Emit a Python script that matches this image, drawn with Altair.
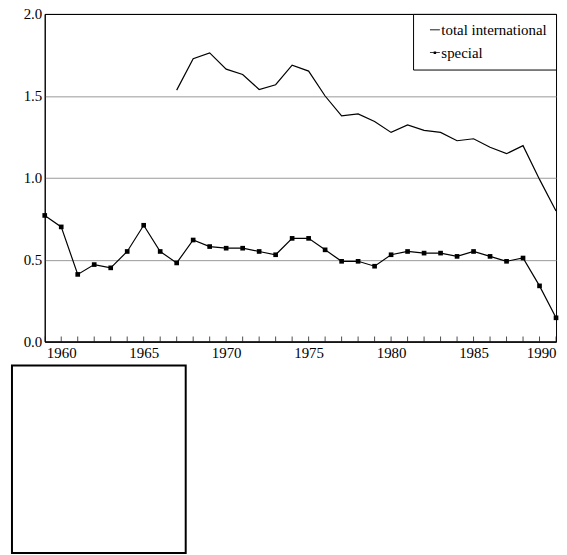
import altair as alt
import pandas as pd

# ---- data ----
years_special = list(range(1959, 1991))
special = [0.77, 0.70, 0.41, 0.47, 0.45, 0.55, 0.71, 0.55, 0.48, 0.62, 0.58, 0.57,
           0.57, 0.55, 0.53, 0.63, 0.63, 0.56, 0.49, 0.49, 0.46, 0.53, 0.55, 0.54,
           0.54, 0.52, 0.55, 0.52, 0.49, 0.51, 0.34, 0.145]

years_total = list(range(1967, 1991))
total_international = [1.535, 1.727, 1.762, 1.663, 1.630, 1.539, 1.568, 1.687, 1.651,
                       1.499, 1.378, 1.390, 1.343, 1.277, 1.323, 1.289, 1.277, 1.226,
                       1.238, 1.186, 1.147, 1.196, 0.99, 0.797]

series_names = ["total international", "special"]
x_labels = [1960, 1965, 1970, 1975, 1980, 1985, 1990]
y_ticks = [0.0, 0.5, 1.0, 1.5, 2.0]
tick_years = list(range(1959, 1991))

rows = []
for yr, v in zip(years_total, total_international):
    rows.append({"year": yr, "value": v, "series": series_names[0]})
for yr, v in zip(years_special, special):
    rows.append({"year": yr, "value": v, "series": series_names[1]})
df = pd.DataFrame(rows)
df_special = df[df["series"] == "special"]
df_ticks = pd.DataFrame({"year": tick_years})

FONT = "Liberation Serif"
FS = 15
W, H = 515, 330

xscale = alt.Scale(domain=[1959, 1990], nice=False, zero=False)
yscale = alt.Scale(domain=[0, 2], nice=False)

# --- narrow panel holding the y tick labels ---
ylabels = alt.Chart(df).mark_point(opacity=0).encode(
    y=alt.Y("value:Q", scale=yscale, title=None,
            axis=alt.Axis(orient="right", values=y_ticks, format=".1f", ticks=False,
                          domain=False, grid=False, labelAlign="right", labelPadding=0,
                          labelFont=FONT, labelFontSize=FS, labelColor="black"))
).properties(width=30, height=H,
             view=alt.ViewBackground(stroke="transparent", strokeWidth=0))

# --- main plot ---
x_enc = alt.X("year:Q", scale=xscale, title=None,
              axis=alt.Axis(values=x_labels, format="d", ticks=False, grid=False,
                            domainColor="black", labelFont=FONT, labelFontSize=FS,
                            labelColor="black", labelPadding=4, labelFlush=True,
                            labelFlushOffset=0))
y_enc = alt.Y("value:Q", scale=yscale, title=None,
              axis=alt.Axis(values=y_ticks, ticks=False, labels=False, grid=True,
                            gridColor={"condition": {"test": "datum.value == 2 || datum.value == 0",
                                                     "value": "black"}, "value": "#999999"},
                            gridWidth=1, domainColor="black"))

lines = alt.Chart(df).mark_line(color="black", strokeWidth=1.2).encode(
    x=x_enc, y=y_enc, detail="series:N")

points = alt.Chart(df_special).mark_square(size=22, color="black", opacity=1).encode(
    x="year:Q", y="value:Q")

ticks = alt.Chart(df_ticks).mark_tick(color="black", size=10, thickness=1, clip=True,
                                      orient="vertical").encode(
    x="year:Q", y=alt.datum(0))

line_path = "M-0.6,-0.09L1.4,-0.09L1.4,0.09L-0.6,0.09Z"
special_path = ("M-0.6,-0.09L1.4,-0.09L1.4,0.09L-0.6,0.09Z"
                "M0.15,-0.25L0.65,-0.25L0.65,0.25L0.15,0.25Z")

legend_layer = alt.Chart(df).mark_point(filled=True, color="black", size=0).encode(
    x="year:Q", y="value:Q",
    shape=alt.Shape("series:N",
                    scale=alt.Scale(domain=series_names, range=[line_path, special_path]),
                    legend=alt.Legend(title=None, orient="top-right", offset=0,
                                      strokeColor="black", fillColor="white",
                                      padding=8.5, rowPadding=7, symbolSize=100,
                                      symbolOffset=4,
                                      symbolFillColor="black", symbolStrokeColor="black",
                                      symbolStrokeWidth=0, symbolOpacity=1,
                                      labelFont=FONT, labelFontSize=FS,
                                      labelColor="black", labelOffset=1,
                                      labelExpr="datum.label + '    '")))

main = alt.layer(lines, points, ticks, legend_layer).properties(
    width=W, height=H,
    view=alt.ViewBackground(stroke="black", strokeWidth=1))

top_row = alt.hconcat(ylabels, main, spacing=0).resolve_legend(shape="independent")

box = alt.Chart(pd.DataFrame({"a": [0]})).mark_point(opacity=0).encode(
    x=alt.value(0), y=alt.value(0)).properties(
    width=175, height=189,
    view=alt.ViewBackground(stroke="black", strokeWidth=2))

chart = alt.vconcat(top_row, box, spacing=0).resolve_legend(
    shape="independent").properties(
    padding={"left": 0, "top": -3, "right": 0, "bottom": 0}
).configure(font=FONT)

chart.save("out.html", embed_options={"renderer": "svg", "actions": False})
